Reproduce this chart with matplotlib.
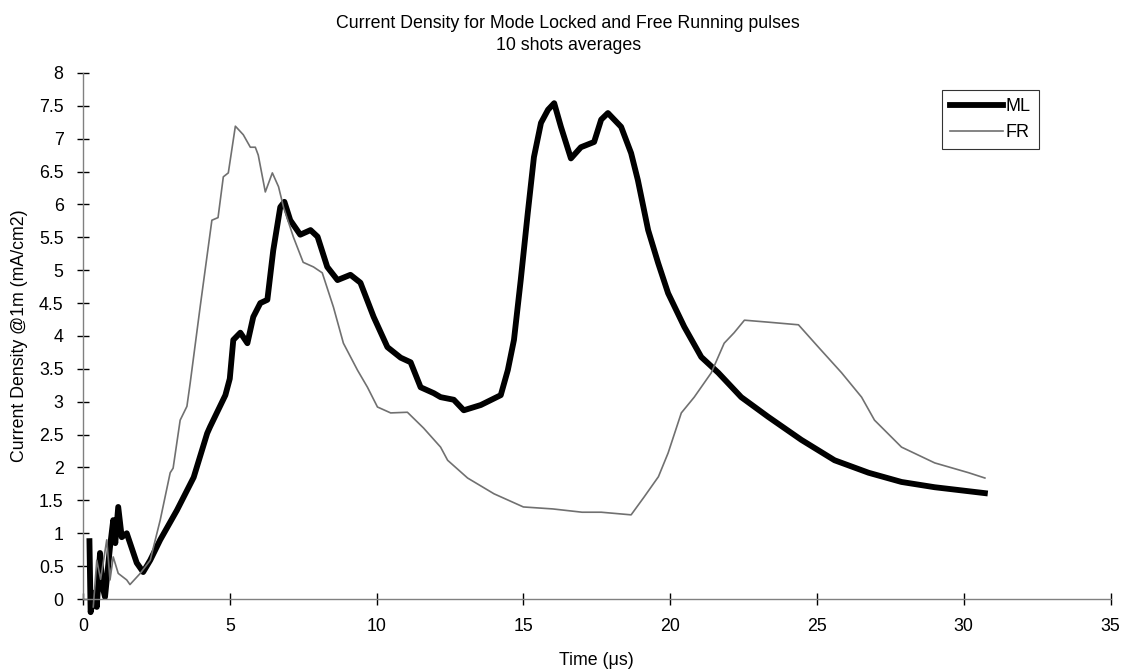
import numpy as np
import matplotlib
matplotlib.use("Agg")
import matplotlib.pyplot as plt

plt.rcParams['font.family'] = ['Liberation Sans', 'DejaVu Sans']

# Mode locked (ML) - time in us, current density in mA/cm2
ml_t = [0.22, 0.26, 0.4, 0.47, 0.58, 0.66, 0.75, 0.92, 1.03, 1.1, 1.2, 1.32, 1.49, 1.83, 2.05,
        2.29, 2.63, 3.2, 3.77, 4.23, 4.33, 4.85, 5.0, 5.12, 5.36, 5.6, 5.8, 6.04, 6.28, 6.48,
        6.72, 6.86, 7.06, 7.4, 7.75, 7.99, 8.32, 8.67, 9.11, 9.45, 9.9, 10.37, 10.82, 11.16,
        11.5, 11.95, 12.18, 12.63, 12.97, 13.55, 14.23, 14.47, 14.68, 14.91, 15.15, 15.36,
        15.6, 15.84, 16.05, 16.28, 16.62, 16.96, 17.41, 17.65, 17.88, 18.33, 18.67, 18.9,
        19.25, 19.59, 19.93, 20.48, 21.06, 21.64, 22.42, 23.34, 24.47, 25.6, 26.76, 27.88,
        29.01, 30.72]
ml_j = [0.88, -0.2, 0.1, -0.12, 0.7, 0.2, 0.03, 0.79, 1.2, 0.85, 1.4, 0.94, 1.0, 0.55, 0.41,
        0.59, 0.9, 1.35, 1.85, 2.52, 2.62, 3.1, 3.35, 3.94, 4.05, 3.89, 4.29, 4.5, 4.55, 5.3,
        5.96, 6.04, 5.76, 5.54, 5.61, 5.51, 5.05, 4.85, 4.93, 4.81, 4.29, 3.83, 3.67, 3.6,
        3.22, 3.13, 3.07, 3.03, 2.87, 2.95, 3.1, 3.48, 3.94, 4.85, 5.87, 6.72,
        7.24, 7.44, 7.54, 7.18, 6.7, 6.87, 6.95, 7.29, 7.39, 7.18, 6.78, 6.37,
        5.61, 5.11, 4.65, 4.14, 3.68, 3.44, 3.07, 2.77, 2.42, 2.11, 1.92, 1.78,
        1.7, 1.61]

# Free running (FR)
fr_t = [0.35, 0.47, 0.6, 0.81, 0.92, 1.03, 1.2, 1.49, 1.6, 1.95, 2.29, 2.63, 2.97, 3.07,
        3.31, 3.54, 3.65, 3.99, 4.39, 4.6, 4.78, 4.95, 5.19, 5.46, 5.7, 5.87, 5.97, 6.21,
        6.45, 6.66, 6.83, 7.17, 7.5, 7.85, 8.15, 8.53, 8.87, 9.35, 9.69, 10.03, 10.48, 11.05,
        11.6, 12.18, 12.42, 13.1, 14.0, 15.0, 16.0, 17.0, 17.65, 18.67, 19.11, 19.6, 19.93,
        20.38, 20.82, 21.4, 21.84, 22.18, 22.53, 23.34, 24.37, 25.05, 25.84, 26.52, 26.96,
        27.88, 29.01, 30.17, 30.72]
fr_j = [-0.12, 0.59, 0.3, 0.9, 0.29, 0.64, 0.39, 0.29, 0.22, 0.39, 0.59, 1.2, 1.92, 1.99,
        2.72, 2.93, 3.28, 4.44, 5.76, 5.8, 6.42, 6.48, 7.19, 7.06, 6.87, 6.87, 6.75, 6.19,
        6.48, 6.27, 5.96, 5.5, 5.12, 5.05, 4.96, 4.44, 3.89, 3.48, 3.22, 2.92, 2.83, 2.84,
        2.6, 2.31, 2.11, 1.84, 1.6, 1.4, 1.37, 1.32, 1.32, 1.28, 1.55, 1.86, 2.22,
        2.83, 3.07, 3.44, 3.89, 4.05, 4.24, 4.21, 4.17, 3.83, 3.44, 3.07, 2.72,
        2.31, 2.07, 1.92, 1.84]

fig = plt.figure(figsize=(11.23, 6.69), dpi=100)
ax = fig.add_axes([0.0739, 0.1046, 0.915, 0.7864])

ax.plot(ml_t, ml_j, color='black', linewidth=4.2, label='ML', clip_on=False)
ax.plot(fr_t, fr_j, color='#707070', linewidth=1.2, label='FR', clip_on=False)

ax.set_xlim(0, 35)
ax.set_ylim(0, 8)
ax.set_xticks(np.arange(0, 36, 5))
ax.set_yticks(np.arange(0, 8.1, 0.5))
ax.set_yticklabels(['0', '0.5', '1', '1.5', '2', '2.5', '3', '3.5', '4', '4.5', '5',
                    '5.5', '6', '6.5', '7', '7.5', '8'])

for s in ['top', 'right']:
    ax.spines[s].set_visible(False)
for s in ['left', 'bottom']:
    ax.spines[s].set_color('#808080')
    ax.spines[s].set_linewidth(1.0)
ax.tick_params(direction='inout', length=8, width=1, colors='black', labelsize=12.8, pad=10)

ax.set_xlabel('Time (\u03bcs)', fontsize=12.8, labelpad=12)
ax.set_ylabel('Current Density @1m (mA/cm2)', fontsize=12.8, labelpad=8)
fig.text(0.506, 0.949, 'Current Density for Mode Locked and Free Running pulses\n10 shots averages',
         fontsize=12.8, ha='center', va='center', linespacing=1.4)

leg = ax.legend(loc='upper right', bbox_to_anchor=(0.93, 0.968), borderaxespad=0,
                frameon=True, fancybox=False, edgecolor='black', fontsize=13,
                handlelength=2.9, handletextpad=0.15, borderpad=0.45, labelspacing=0.5)
leg.get_frame().set_linewidth(0.8)

fig.savefig('out.png', dpi=100)
